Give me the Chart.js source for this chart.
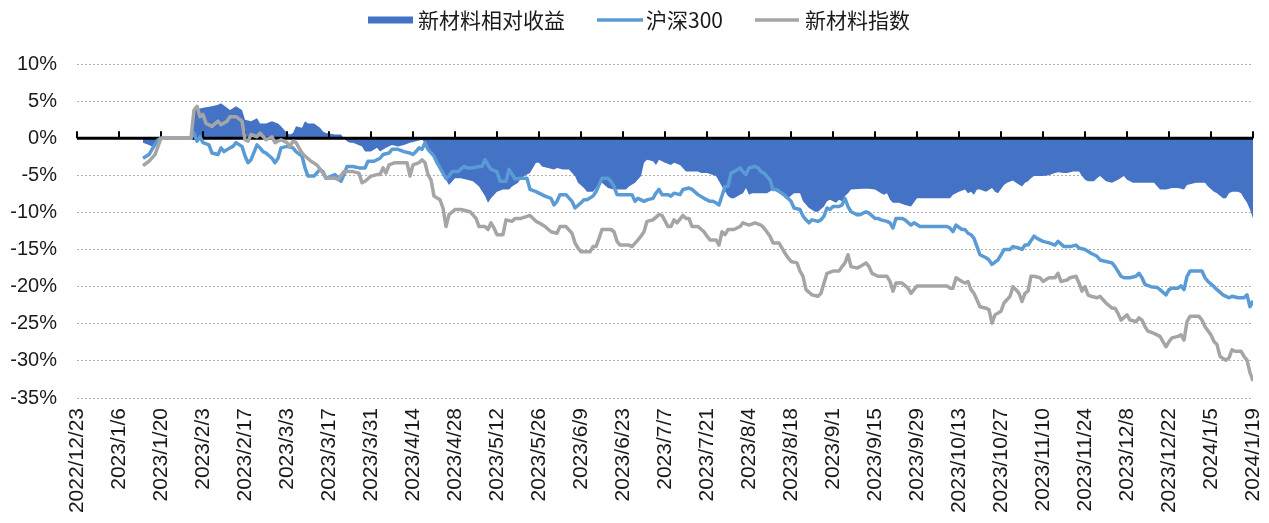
<!DOCTYPE html>
<html>
<head>
<meta charset="utf-8">
<script src="https://cdn.jsdelivr.net/npm/chart.js@4.4.1/dist/chart.umd.min.js"></script>
<style>
html,body{margin:0;padding:0;background:#fff;}
#wrap{width:1269px;height:523px;position:relative;}
</style>
</head>
<body>
<div id="wrap"><canvas id="c" width="1269" height="523"></canvas></div>
<script>
// ---------- data ----------
const legendNames = ['新材料相对收益', '沪深300', '新材料指数'];

const tickLabels = ['2022/12/23','2023/1/6','2023/1/20','2023/2/3','2023/2/17','2023/3/3','2023/3/17','2023/3/31',
  '2023/4/14','2023/4/28','2023/5/12','2023/5/26','2023/6/9','2023/6/23','2023/7/7','2023/7/21','2023/8/4',
  '2023/8/18','2023/9/1','2023/9/15','2023/9/29','2023/10/13','2023/10/27','2023/11/10','2023/11/24',
  '2023/12/8','2023/12/22','2024/1/5','2024/1/19'];

const yTicks = [10, 5, 0, -5, -10, -15, -20, -25, -30, -35];

// 新材料相对收益 (%)
const relDates = ['2023/1/14','2023/1/16','2023/1/17','2023/1/19','2023/1/20','2023/1/30','2023/1/31','2023/2/1','2023/2/3','2023/2/6',
  '2023/2/8','2023/2/9','2023/2/11','2023/2/12','2023/2/14','2023/2/16','2023/2/17','2023/2/19','2023/2/21','2023/2/22',
  '2023/2/24','2023/2/26','2023/2/28','2023/3/1','2023/3/3','2023/3/4','2023/3/5','2023/3/6','2023/3/8','2023/3/9',
  '2023/3/10','2023/3/12','2023/3/14','2023/3/15','2023/3/16','2023/3/19','2023/3/21','2023/3/22','2023/3/23','2023/3/24',
  '2023/3/25','2023/3/28','2023/3/29','2023/3/31','2023/4/2','2023/4/3','2023/4/5','2023/4/7','2023/4/9','2023/4/11',
  '2023/4/13','2023/4/15','2023/4/17','2023/4/18','2023/4/20','2023/4/22','2023/4/23','2023/4/25','2023/4/26','2023/4/28',
  '2023/4/30','2023/5/2','2023/5/4','2023/5/6','2023/5/8','2023/5/9','2023/5/10','2023/5/12','2023/5/14','2023/5/16',
  '2023/5/17','2023/5/19','2023/5/20','2023/5/21','2023/5/23','2023/5/25','2023/5/26','2023/5/27','2023/5/29','2023/5/31',
  '2023/6/1','2023/6/3','2023/6/5','2023/6/6','2023/6/7','2023/6/8','2023/6/10','2023/6/11','2023/6/13','2023/6/14',
  '2023/6/15','2023/6/16','2023/6/18','2023/6/20','2023/6/21','2023/6/24','2023/6/25','2023/6/27','2023/6/29','2023/6/30',
  '2023/7/1','2023/7/3','2023/7/4','2023/7/5','2023/7/7','2023/7/9','2023/7/10','2023/7/12','2023/7/14','2023/7/16',
  '2023/7/18','2023/7/19','2023/7/21','2023/7/24','2023/7/26','2023/7/28','2023/7/29','2023/7/30','2023/8/1','2023/8/2',
  '2023/8/3','2023/8/4','2023/8/5','2023/8/7','2023/8/8','2023/8/10','2023/8/12','2023/8/14','2023/8/16','2023/8/17',
  '2023/8/19','2023/8/21','2023/8/22','2023/8/24','2023/8/26','2023/8/27','2023/8/29','2023/8/30','2023/8/31','2023/9/2',
  '2023/9/3','2023/9/4','2023/9/5','2023/9/6','2023/9/7','2023/9/11','2023/9/13','2023/9/15','2023/9/17','2023/9/18',
  '2023/9/19','2023/9/20','2023/9/21','2023/9/23','2023/9/25','2023/9/27','2023/9/29','2023/10/10','2023/10/11','2023/10/13',
  '2023/10/15','2023/10/16','2023/10/17','2023/10/18','2023/10/19','2023/10/20','2023/10/22','2023/10/24','2023/10/25','2023/10/26',
  '2023/10/28','2023/10/29','2023/10/31','2023/11/1','2023/11/3','2023/11/4','2023/11/5','2023/11/6','2023/11/7','2023/11/10',
  '2023/11/12','2023/11/14','2023/11/15','2023/11/17','2023/11/18','2023/11/20','2023/11/22','2023/11/23','2023/11/24','2023/11/25',
  '2023/11/27','2023/11/28','2023/11/29','2023/12/1','2023/12/3','2023/12/5','2023/12/7','2023/12/8','2023/12/10','2023/12/12',
  '2023/12/14','2023/12/17','2023/12/19','2023/12/21','2023/12/23','2023/12/25','2023/12/27','2023/12/28','2023/12/31','2024/1/1',
  '2024/1/3','2024/1/4','2024/1/6','2024/1/7','2024/1/9','2024/1/10','2024/1/11','2024/1/12','2024/1/14','2024/1/15',
  '2024/1/16','2024/1/17','2024/1/18','2024/1/19'];
const relValues = [-0.6,-0.9,-1.1,-0.6,0,0,3.8,3.9,4.1,4.3,
  4.5,4.7,4.1,3.8,4.3,3.8,2.5,2.3,2.7,2.0,
  2.0,2.3,2.0,1.6,0.7,0.5,0.7,1.6,1.4,2.3,
  2.0,2.0,1.4,0.9,0.7,0.5,0.5,0.0,-0.4,-0.6,
  -0.6,-1.1,-1.8,-1.8,-1.3,-1.8,-1.3,-0.9,-1.1,-0.9,
  -0.6,-0.4,-0.2,-0.6,-2.0,-3.3,-4.2,-5.6,-6.3,-5.4,
  -5.4,-5.6,-5.8,-6.5,-7.8,-8.7,-8.1,-7.2,-6.9,-6.9,
  -6.5,-6.0,-5.4,-5.1,-4.7,-3.3,-3.3,-3.8,-4.0,-4.2,
  -4.0,-4.2,-4.2,-4.7,-5.1,-6.0,-6.7,-7.2,-7.2,-6.7,
  -6.3,-6.0,-6.7,-6.9,-6.9,-6.9,-6.5,-6.0,-5.1,-3.3,
  -2.9,-3.1,-3.6,-2.9,-3.3,-3.6,-3.3,-3.6,-4.5,-4.5,
  -4.5,-4.7,-4.7,-5.1,-6.5,-7.8,-8.1,-8.1,-7.6,-7.4,
  -6.7,-7.6,-7.4,-7.4,-7.4,-7.4,-6.9,-6.9,-7.8,-8.1,
  -7.4,-7.4,-8.5,-9.4,-9.9,-9.9,-9.2,-8.5,-8.3,-8.7,
  -8.3,-8.5,-7.8,-7.4,-6.9,-6.8,-6.8,-6.9,-7.4,-7.6,
  -7.4,-8.3,-8.7,-8.7,-9.0,-9.2,-8.1,-8.1,-7.6,-7.2,
  -6.9,-7.4,-7.2,-7.6,-6.9,-6.9,-7.2,-6.7,-7.2,-7.4,
  -6.3,-6.0,-5.7,-6.0,-6.5,-6.0,-5.8,-5.4,-5.1,-5.1,
  -5.0,-4.7,-4.6,-4.7,-4.7,-4.5,-4.5,-5.1,-5.6,-5.8,
  -5.8,-5.4,-5.1,-5.8,-6.0,-5.6,-5.1,-5.6,-6.0,-6.0,
  -6.0,-6.0,-6.9,-6.9,-6.7,-6.7,-6.9,-6.3,-6.0,-6.0,
  -6.0,-6.5,-7.2,-7.4,-8.1,-8.1,-7.4,-7.2,-7.2,-7.4,
  -8.1,-8.7,-9.6,-10.8];

// 沪深300 (%)
const hsDates = ['2023/1/14','2023/1/16','2023/1/17','2023/1/19','2023/1/20','2023/1/30','2023/1/31','2023/2/1','2023/2/2','2023/2/3',
  '2023/2/5','2023/2/6','2023/2/8','2023/2/9','2023/2/10','2023/2/12','2023/2/13','2023/2/14','2023/2/16','2023/2/17',
  '2023/2/18','2023/2/19','2023/2/21','2023/2/22','2023/2/23','2023/2/24','2023/2/26','2023/2/27','2023/2/28','2023/3/1',
  '2023/3/3','2023/3/5','2023/3/6','2023/3/8','2023/3/9','2023/3/10','2023/3/12','2023/3/14','2023/3/15','2023/3/16',
  '2023/3/19','2023/3/21','2023/3/22','2023/3/23','2023/3/25','2023/3/27','2023/3/29','2023/3/30','2023/4/1','2023/4/3',
  '2023/4/4','2023/4/6','2023/4/7','2023/4/9','2023/4/11','2023/4/13','2023/4/14','2023/4/15','2023/4/16','2023/4/17',
  '2023/4/18','2023/4/19','2023/4/21','2023/4/22','2023/4/23','2023/4/25','2023/4/26','2023/4/27','2023/4/29','2023/5/1',
  '2023/5/2','2023/5/4','2023/5/6','2023/5/7','2023/5/8','2023/5/9','2023/5/10','2023/5/12','2023/5/13','2023/5/15',
  '2023/5/16','2023/5/18','2023/5/20','2023/5/22','2023/5/23','2023/5/25','2023/5/27','2023/5/28','2023/5/30','2023/5/31',
  '2023/6/1','2023/6/2','2023/6/4','2023/6/6','2023/6/7','2023/6/9','2023/6/10','2023/6/11','2023/6/13','2023/6/14',
  '2023/6/15','2023/6/16','2023/6/18','2023/6/19','2023/6/20','2023/6/21','2023/6/24','2023/6/26','2023/6/27','2023/6/28',
  '2023/6/30','2023/7/1','2023/7/3','2023/7/4','2023/7/5','2023/7/6','2023/7/8','2023/7/9','2023/7/10','2023/7/12',
  '2023/7/13','2023/7/15','2023/7/16','2023/7/18','2023/7/20','2023/7/22','2023/7/23','2023/7/24','2023/7/25','2023/7/27',
  '2023/7/28','2023/7/29','2023/7/30','2023/8/1','2023/8/2','2023/8/3','2023/8/4','2023/8/6','2023/8/7','2023/8/8',
  '2023/8/9','2023/8/11','2023/8/12','2023/8/13','2023/8/15','2023/8/17','2023/8/18','2023/8/19','2023/8/21','2023/8/22',
  '2023/8/23','2023/8/24','2023/8/25','2023/8/27','2023/8/28','2023/8/29','2023/8/30','2023/8/31','2023/9/1','2023/9/3',
  '2023/9/4','2023/9/5','2023/9/6','2023/9/7','2023/9/9','2023/9/10','2023/9/12','2023/9/13','2023/9/15','2023/9/16',
  '2023/9/17','2023/9/19','2023/9/20','2023/9/21','2023/9/22','2023/9/24','2023/9/25','2023/9/27','2023/9/28','2023/9/30',
  '2023/10/5','2023/10/9','2023/10/10','2023/10/11','2023/10/12','2023/10/14','2023/10/15','2023/10/16','2023/10/17','2023/10/18',
  '2023/10/19','2023/10/20','2023/10/22','2023/10/23','2023/10/24','2023/10/26','2023/10/27','2023/10/28','2023/10/30','2023/10/31',
  '2023/11/2','2023/11/3','2023/11/4','2023/11/5','2023/11/7','2023/11/8','2023/11/9','2023/11/10','2023/11/12','2023/11/14',
  '2023/11/15','2023/11/17','2023/11/19','2023/11/21','2023/11/22','2023/11/24','2023/11/26','2023/11/28','2023/11/29','2023/12/1',
  '2023/12/3','2023/12/4','2023/12/6','2023/12/7','2023/12/9','2023/12/11','2023/12/12','2023/12/13','2023/12/14','2023/12/16',
  '2023/12/18','2023/12/19','2023/12/21','2023/12/22','2023/12/23','2023/12/25','2023/12/26','2023/12/27','2023/12/28','2023/12/29',
  '2023/12/31','2024/1/2','2024/1/3','2024/1/4','2024/1/6','2024/1/7','2024/1/9','2024/1/10','2024/1/11','2024/1/12',
  '2024/1/14','2024/1/16','2024/1/17','2024/1/18','2024/1/19'];
const hsValues = [-2.7,-2.2,-1.5,-0.2,0,0,0.7,-0.4,0.2,-0.6,
  -0.9,-2.0,-2.2,-1.3,-1.8,-1.3,-1.1,-0.6,-1.1,-2.4,
  -3.3,-2.9,-0.9,-1.3,-1.8,-2.0,-2.7,-3.3,-2.7,-1.3,
  -1.1,-1.3,-1.8,-2.4,-4.0,-5.1,-5.1,-4.2,-4.5,-5.4,
  -4.9,-5.8,-4.9,-3.8,-3.8,-4.0,-4.0,-3.1,-3.1,-2.7,
  -2.2,-2.0,-1.5,-1.5,-1.8,-2.0,-2.2,-1.8,-1.3,-1.5,
  -0.6,-1.5,-2.4,-3.3,-4.0,-5.4,-5.1,-4.5,-4.5,-3.8,
  -4.0,-4.0,-3.8,-3.8,-2.9,-3.6,-4.2,-4.5,-5.8,-5.8,
  -4.2,-5.5,-5.4,-5.4,-6.9,-7.2,-7.6,-7.8,-8.1,-9.0,
  -8.5,-7.6,-7.6,-8.5,-9.4,-8.7,-8.3,-8.3,-7.8,-7.2,
  -6.3,-5.4,-5.4,-5.8,-6.5,-7.6,-7.6,-7.6,-8.5,-8.1,
  -8.5,-8.3,-8.1,-7.4,-6.9,-7.6,-7.6,-7.8,-7.4,-7.6,
  -6.9,-6.7,-6.9,-7.6,-8.1,-8.5,-8.5,-8.7,-9.0,-6.5,
  -6.5,-4.7,-4.5,-4.0,-4.5,-4.9,-4.0,-3.8,-4.0,-4.5,
  -4.7,-5.6,-6.9,-6.9,-7.4,-8.1,-8.5,-9.4,-9.6,-10.5,
  -11.0,-11.4,-11.0,-11.2,-11.0,-10.5,-9.4,-9.6,-9.2,-9.2,
  -9.0,-8.1,-9.2,-9.9,-10.3,-10.3,-9.9,-10.1,-10.8,-10.8,
  -11.0,-11.2,-11.4,-12.1,-10.8,-10.8,-11.0,-11.7,-11.4,-11.9,
  -11.9,-11.9,-12.1,-12.6,-11.7,-12.3,-12.3,-12.8,-13.0,-13.5,
  -14.6,-15.7,-16.1,-16.4,-17.0,-16.4,-15.7,-15.0,-15.0,-14.6,
  -14.8,-15.0,-14.4,-14.4,-13.2,-13.5,-13.7,-13.9,-14.1,-14.4,
  -13.9,-14.6,-14.6,-14.4,-14.8,-15.0,-15.5,-15.9,-16.4,-16.6,
  -16.8,-17.3,-18.6,-18.8,-18.8,-18.6,-18.2,-18.8,-19.7,-20.0,
  -20.1,-20.4,-21.1,-20.4,-20.2,-20.2,-19.9,-20.4,-18.6,-17.9,
  -17.9,-17.9,-18.8,-19.3,-20.0,-20.4,-21.1,-21.3,-21.5,-21.3,
  -21.5,-21.5,-21.1,-22.7,-21.9];

// 新材料指数 (%)
const idxDates = ['2023/1/14','2023/1/16','2023/1/18','2023/1/20','2023/1/30','2023/1/31','2023/2/1','2023/2/2','2023/2/3','2023/2/4',
  '2023/2/6','2023/2/8','2023/2/9','2023/2/11','2023/2/12','2023/2/14','2023/2/16','2023/2/17','2023/2/18','2023/2/19',
  '2023/2/21','2023/2/22','2023/2/24','2023/2/26','2023/2/27','2023/3/1','2023/3/3','2023/3/4','2023/3/5','2023/3/6',
  '2023/3/8','2023/3/9','2023/3/11','2023/3/13','2023/3/15','2023/3/16','2023/3/19','2023/3/20','2023/3/22','2023/3/25',
  '2023/3/27','2023/3/28','2023/3/29','2023/3/31','2023/4/2','2023/4/3','2023/4/4','2023/4/5','2023/4/6','2023/4/8',
  '2023/4/10','2023/4/12','2023/4/13','2023/4/14','2023/4/16','2023/4/17','2023/4/18','2023/4/19','2023/4/20','2023/4/21',
  '2023/4/23','2023/4/24','2023/4/25','2023/4/26','2023/4/28','2023/4/30','2023/5/3','2023/5/5','2023/5/6','2023/5/8',
  '2023/5/9','2023/5/10','2023/5/11','2023/5/12','2023/5/14','2023/5/15','2023/5/17','2023/5/18','2023/5/20','2023/5/23',
  '2023/5/25','2023/5/26','2023/5/28','2023/5/30','2023/6/1','2023/6/2','2023/6/4','2023/6/6','2023/6/7','2023/6/8',
  '2023/6/9','2023/6/12','2023/6/13','2023/6/14','2023/6/15','2023/6/16','2023/6/19','2023/6/20','2023/6/21','2023/6/22',
  '2023/6/25','2023/6/26','2023/6/28','2023/6/29','2023/6/30','2023/7/1','2023/7/3','2023/7/5','2023/7/6','2023/7/8',
  '2023/7/9','2023/7/10','2023/7/11','2023/7/13','2023/7/14','2023/7/15','2023/7/16','2023/7/18','2023/7/20','2023/7/21',
  '2023/7/22','2023/7/24','2023/7/25','2023/7/26','2023/7/27','2023/7/28','2023/7/30','2023/8/1','2023/8/2','2023/8/4',
  '2023/8/6','2023/8/8','2023/8/9','2023/8/11','2023/8/12','2023/8/14','2023/8/16','2023/8/17','2023/8/18','2023/8/20',
  '2023/8/21','2023/8/22','2023/8/23','2023/8/25','2023/8/27','2023/8/28','2023/8/29','2023/8/30','2023/9/1','2023/9/3',
  '2023/9/4','2023/9/5','2023/9/6','2023/9/7','2023/9/9','2023/9/10','2023/9/12','2023/9/13','2023/9/14','2023/9/16',
  '2023/9/19','2023/9/20','2023/9/21','2023/9/22','2023/9/24','2023/9/26','2023/9/27','2023/9/29','2023/10/9','2023/10/10',
  '2023/10/11','2023/10/12','2023/10/14','2023/10/15','2023/10/16','2023/10/17','2023/10/18','2023/10/19','2023/10/20','2023/10/22',
  '2023/10/23','2023/10/24','2023/10/25','2023/10/27','2023/10/28','2023/10/30','2023/10/31','2023/11/1','2023/11/2','2023/11/3',
  '2023/11/4','2023/11/5','2023/11/6','2023/11/7','2023/11/9','2023/11/10','2023/11/12','2023/11/14','2023/11/15','2023/11/16',
  '2023/11/18','2023/11/19','2023/11/21','2023/11/22','2023/11/23','2023/11/24','2023/11/25','2023/11/26','2023/11/28','2023/11/29',
  '2023/12/1','2023/12/3','2023/12/4','2023/12/5','2023/12/6','2023/12/8','2023/12/9','2023/12/11','2023/12/12','2023/12/13',
  '2023/12/14','2023/12/15','2023/12/17','2023/12/19','2023/12/20','2023/12/21','2023/12/22','2023/12/23','2023/12/25','2023/12/26',
  '2023/12/27','2023/12/28','2023/12/29','2024/1/1','2024/1/2','2024/1/3','2024/1/5','2024/1/6','2024/1/7','2024/1/8',
  '2024/1/10','2024/1/11','2024/1/12','2024/1/13','2024/1/15','2024/1/16','2024/1/17','2024/1/18','2024/1/19'];
const idxValues = [-3.7,-3.1,-2.2,0,0,3.8,4.3,2.9,3.2,2.0,
  1.6,2.3,1.8,2.3,2.9,2.9,2.3,-0.2,-0.4,0.5,
  0.2,0.7,-0.2,0.2,-0.6,-0.2,-0.6,-1.1,-0.4,-0.6,
  -2.0,-2.4,-3.1,-3.6,-4.7,-5.4,-5.4,-5.6,-4.5,-4.5,
  -4.7,-6.0,-5.8,-5.1,-4.9,-4.9,-4.0,-4.7,-3.6,-3.3,
  -3.3,-3.3,-5.1,-3.6,-3.3,-2.9,-3.3,-4.9,-5.6,-7.8,
  -8.3,-9.4,-11.9,-10.3,-9.6,-9.6,-9.9,-10.8,-11.9,-11.9,
  -12.3,-11.4,-12.1,-13.0,-13.0,-11.0,-11.2,-10.8,-10.8,-10.4,
  -11.2,-11.4,-11.9,-12.6,-12.8,-11.9,-11.9,-12.8,-14.1,-14.8,
  -15.3,-15.3,-14.6,-14.6,-13.5,-12.3,-12.3,-12.6,-13.9,-14.4,
  -14.4,-14.6,-13.7,-13.2,-12.6,-11.2,-11.0,-10.3,-10.4,-11.9,
  -11.9,-11.0,-11.4,-10.4,-10.8,-10.8,-11.9,-11.9,-12.6,-13.2,
  -13.7,-13.7,-14.4,-12.6,-13.0,-12.3,-12.3,-11.9,-11.4,-11.7,
  -11.4,-11.7,-12.1,-13.2,-14.1,-14.1,-15.5,-16.1,-16.6,-16.8,
  -17.9,-18.6,-20.4,-21.1,-21.3,-20.9,-19.5,-18.2,-17.9,-17.9,
  -17.3,-16.8,-15.7,-17.3,-17.5,-17.3,-16.8,-17.3,-18.2,-18.6,
  -18.6,-19.3,-20.6,-19.5,-19.5,-20.2,-20.9,-19.9,-19.9,-20.2,
  -20.2,-18.8,-19.3,-19.5,-19.3,-20.4,-20.9,-21.8,-22.7,-22.9,
  -23.1,-24.9,-23.8,-23.3,-22.2,-21.3,-20.0,-20.4,-20.9,-22.0,
  -20.9,-20.6,-18.6,-18.6,-18.8,-19.3,-18.8,-18.8,-18.2,-19.3,
  -19.1,-18.8,-18.6,-19.5,-20.6,-20.0,-21.1,-21.3,-21.5,-21.3,
  -22.2,-22.9,-22.9,-23.6,-24.5,-23.8,-24.5,-24.7,-24.2,-24.5,
  -25.4,-26.0,-26.3,-26.7,-27.4,-28.1,-27.4,-26.9,-26.7,-26.5,
  -27.2,-24.7,-24.0,-24.0,-24.5,-25.4,-26.5,-27.4,-27.8,-29.4,
  -29.9,-29.6,-28.5,-28.7,-28.7,-29.4,-29.9,-31.6,-32.7];

// ---------- helpers ----------
const BASE = Date.UTC(2022, 11, 23);
function dayOf(s) {
  const p = s.split('/').map(Number);
  return Math.round((Date.UTC(p[0], p[1] - 1, p[2]) - BASE) / 86400000);
}
function pts(dates, values) {
  return dates.map((d, i) => ({ x: dayOf(d), y: values[i] }));
}
const tickDays = tickLabels.map(dayOf);

const COL_REL = '#4472C4', COL_HS = '#5B9BD5', COL_IDX = '#A5A5A5';
const TICK_FONT = "'Liberation Sans', Arial, sans-serif";
const CJK_FONT = "'Noto Sans CJK SC', 'Noto Sans', sans-serif";

// zero axis line with upward tick marks, drawn right after the area
const zeroAxis = {
  id: 'zeroAxis',
  afterDatasetDraw(chart, args) {
    if (args.index !== 0) return;
    const { ctx, scales: { x, y }, chartArea } = chart;
    const y0 = y.getPixelForValue(0);
    ctx.save();
    ctx.strokeStyle = '#000';
    ctx.lineWidth = 3;
    ctx.beginPath();
    ctx.moveTo(chartArea.left, y0);
    ctx.lineTo(chartArea.right, y0);
    ctx.stroke();
    ctx.lineWidth = 2;
    ctx.beginPath();
    tickDays.forEach(d => {
      const px = Math.round(x.getPixelForValue(d));
      ctx.moveTo(px, y0);
      ctx.lineTo(px, y0 - 7);
    });
    ctx.stroke();
    ctx.restore();
  }
};

// legend drawn at top
const topLegend = {
  id: 'topLegend',
  afterDraw(chart) {
    const { ctx } = chart;
    const items = [
      { text: legendNames[0], color: COL_REL, type: 'box', w: 45, gap: 5 },
      { text: legendNames[1], color: COL_HS, type: 'line', w: 46, gap: 3 },
      { text: legendNames[2], color: COL_IDX, type: 'line', w: 44, gap: 6 }
    ];
    const gapItem = 32, cy = 20;
    ctx.save();
    ctx.font = '21px ' + CJK_FONT;
    let x = 368;
    items.forEach(it => {
      const tw = ctx.measureText(it.text).width;
      ctx.fillStyle = it.color;
      if (it.type === 'box') {
        ctx.fillRect(x, cy - 3.5, it.w, 7);
      } else {
        ctx.strokeStyle = it.color;
        ctx.lineWidth = 3.5;
        ctx.beginPath();
        ctx.moveTo(x, cy);
        ctx.lineTo(x + it.w, cy);
        ctx.stroke();
      }
      x += it.w + it.gap;
      ctx.fillStyle = '#1a1a1a';
      ctx.textBaseline = 'middle';
      ctx.textAlign = 'left';
      ctx.fillText(it.text, x, cy);
      x += tw + gapItem;
    });
    ctx.restore();
  }
};

new Chart(document.getElementById('c'), {
  type: 'line',
  data: {
    datasets: [
      {
        label: legendNames[0],
        data: pts(relDates, relValues),
        backgroundColor: COL_REL,
        borderColor: COL_REL,
        borderWidth: 0,
        fill: 'origin',
        pointRadius: 0,
        tension: 0,
        order: 3
      },
      {
        label: legendNames[1],
        data: pts(hsDates, hsValues),
        borderColor: COL_HS,
        borderWidth: 3.5,
        fill: false,
        pointRadius: 0,
        tension: 0,
        borderJoinStyle: 'round',
        order: 2
      },
      {
        label: legendNames[2],
        data: pts(idxDates, idxValues),
        borderColor: COL_IDX,
        borderWidth: 3.5,
        fill: false,
        pointRadius: 0,
        tension: 0,
        borderJoinStyle: 'round',
        order: 1
      }
    ]
  },
  options: {
    responsive: false,
    animation: false,
    devicePixelRatio: 1,
    layout: { padding: { top: 64, right: 16, left: 0, bottom: 0 } },
    plugins: {
      legend: { display: false },
      tooltip: { enabled: false }
    },
    scales: {
      x: {
        type: 'linear',
        min: tickDays[0],
        max: tickDays[tickDays.length - 1],
        afterBuildTicks(scale) {
          scale.ticks = tickDays.map(v => ({ value: v }));
        },
        afterFit(scale) {
          scale.height = 125;
          scale.paddingLeft = 0;
          scale.paddingRight = 0;
        },
        grid: { display: false, drawTicks: false },
        border: { display: false },
        ticks: {
          autoSkip: false,
          maxRotation: 90,
          minRotation: 90,
          padding: 10,
          color: '#1a1a1a',
          font: { family: TICK_FONT, size: 21 },
          callback(v) {
            const i = tickDays.indexOf(v);
            return i >= 0 ? tickLabels[i] : '';
          }
        }
      },
      y: {
        min: -35,
        max: 10,
        afterBuildTicks(scale) {
          scale.ticks = yTicks.map(v => ({ value: v }));
        },
        afterFit(scale) { scale.width = 77; },
        grid: { color: '#B0B0B0', lineWidth: 1, drawTicks: false },
        border: { display: false, dash: [2, 2] },
        ticks: {
          padding: 20,
          color: '#1a1a1a',
          font: { family: TICK_FONT, size: 20 },
          callback(v) { return v + '%'; }
        }
      }
    }
  },
  plugins: [zeroAxis, topLegend]
});
</script>
</body>
</html>
